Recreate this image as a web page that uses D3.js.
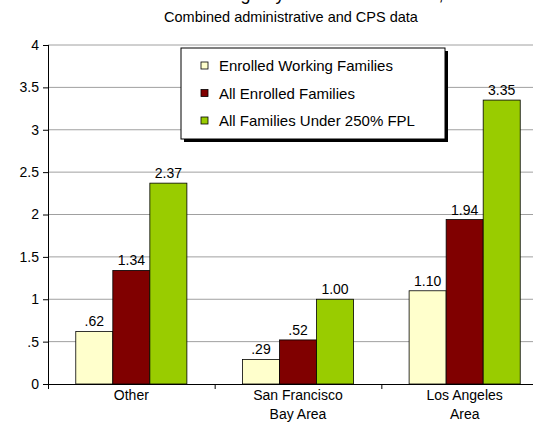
<!DOCTYPE html>
<html>
<head>
<meta charset="utf-8">
<script src="https://cdn.jsdelivr.net/npm/d3@7"></script>
<style>
  body { margin: 0; background: #fff; }
  svg { display: block; font-family: "Liberation Sans", Arial, sans-serif; }
</style>
</head>
<body>
<svg id="chart" width="533" height="429"></svg>
<script>
// ===== DATA =====
const categories = [["Other"], ["San Francisco", "Bay Area"], ["Los Angeles", "Area"]];
const seriesNames = ["Enrolled Working Families", "All Enrolled Families", "All Families Under 250% FPL"];
const seriesColors = ["#ffffcc", "#800000", "#99cc00"];
const workingValues = [0.62, 0.29, 1.10];
const enrolledValues = [1.34, 0.52, 1.94];
const under250Values = [2.37, 1.00, 3.35];
const yTicks = [0, 0.5, 1, 1.5, 2, 2.5, 3, 3.5, 4];

const series = [workingValues, enrolledValues, under250Values];
const catKeys = categories.map(c => c.join(" "));

const fmt = v => {
    const s = v.toFixed(2);
    return s.startsWith("0.") ? s.slice(1) : s;
};
const tickFmt = v => v === 0 ? "0" : (v < 1 ? String(v).slice(1) : String(v));

// ===== LAYOUT =====
const svg = d3.select("#chart");
const plotLeft = 48, plotRight = 548, plotTop = 45, plotBottom = 384;

const x0 = d3.scaleBand().domain(catKeys).range([plotLeft, plotRight])
    .paddingInner(1 / 3).paddingOuter(1 / 6);
const x1 = d3.scaleBand().domain(d3.range(series.length)).range([0, x0.bandwidth()]);
const y = d3.scaleLinear().domain([0, 4]).range([plotBottom, plotTop]);

// title (only its lower edge shows in the original)
svg.append("text")
    .attr("x", 291).attr("y", 0)
    .attr("text-anchor", "middle")
    .style("font-size", "18px")
    .text("Relative Usage by Market Area Rates,");

svg.append("text")
    .attr("x", 291).attr("y", 22)
    .attr("text-anchor", "middle")
    .style("font-size", "14.5px")
    .text("Combined administrative and CPS data");

// gridlines
svg.append("g").selectAll("line")
    .data(yTicks.filter(d => d > 0))
    .join("line")
    .attr("x1", plotLeft).attr("x2", 533)
    .attr("y1", d => y(d)).attr("y2", d => y(d))
    .attr("stroke", "#a0a0a0").attr("stroke-width", 1);

// bars
const groups = svg.append("g").selectAll("g")
    .data(catKeys)
    .join("g")
    .attr("transform", d => `translate(${x0(d)},0)`);

groups.selectAll("rect")
    .data((d, i) => series.map((s, j) => ({ j, v: s[i] })))
    .join("rect")
    .attr("x", d => x1(d.j))
    .attr("width", x1.bandwidth())
    .attr("y", d => y(d.v))
    .attr("height", d => y(0) - y(d.v))
    .attr("fill", d => seriesColors[d.j])
    .attr("stroke", "#000").attr("stroke-width", 0.8);

groups.selectAll("text")
    .data((d, i) => series.map((s, j) => ({ j, v: s[i] })))
    .join("text")
    .attr("x", d => x1(d.j) + x1.bandwidth() / 2)
    .attr("y", d => y(d.v) - 5)
    .attr("text-anchor", "middle")
    .style("font-size", "14px")
    .text(d => fmt(d.v));

// y axis
const yAxisG = svg.append("g")
    .attr("transform", `translate(${plotLeft},0)`)
    .call(d3.axisLeft(y).tickValues(yTicks).tickFormat(tickFmt).tickSize(5).tickSizeOuter(0));
yAxisG.selectAll("text").style("font-size", "14px").attr("fill", "#000").attr("x", -9);
yAxisG.selectAll("line, path").attr("stroke", "#000");
yAxisG.select(".domain").attr("d", `M0.5,${plotTop}V${plotBottom}`);

// x axis
const step = x0.step();
const boundaries = catKeys.map(k => x0(k) - step * x0.paddingInner() / 2);
svg.append("line")
    .attr("x1", plotLeft).attr("x2", 533)
    .attr("y1", plotBottom + 0.5).attr("y2", plotBottom + 0.5)
    .attr("stroke", "#000");
svg.append("g").selectAll("line")
    .data(boundaries)
    .join("line")
    .attr("x1", d => d + 0.5).attr("x2", d => d + 0.5)
    .attr("y1", plotBottom).attr("y2", plotBottom + 5)
    .attr("stroke", "#000");

const xl = svg.append("g").selectAll("text")
    .data(categories)
    .join("text")
    .attr("x", (d, i) => x0(catKeys[i]) + x0.bandwidth() / 2)
    .attr("y", 400)
    .attr("text-anchor", "middle")
    .style("font-size", "14px");
xl.selectAll("tspan")
    .data(d => d)
    .join("tspan")
    .attr("x", function () { return d3.select(this.parentNode).attr("x"); })
    .attr("dy", (d, i) => i === 0 ? 0 : 19)
    .text(d => d);

// legend
const lg = svg.append("g");
lg.append("rect")
    .attr("x", 184).attr("y", 51).attr("width", 264).attr("height", 91)
    .attr("fill", "#000");
lg.append("rect")
    .attr("x", 181).attr("y", 48).attr("width", 264).attr("height", 91)
    .attr("fill", "#fff").attr("stroke", "#000").attr("stroke-width", 1);
const items = lg.selectAll("g.item")
    .data(seriesNames)
    .join("g")
    .attr("class", "item")
    .attr("transform", (d, i) => `translate(201,${66 + i * 27.5})`);
items.append("rect")
    .attr("x", 0).attr("y", -4).attr("width", 7).attr("height", 7)
    .attr("fill", (d, i) => seriesColors[i])
    .attr("stroke", "#000").attr("stroke-width", 0.8);
items.append("text")
    .attr("x", 18).attr("y", 5)
    .style("font-size", "15px")
    .text(d => d);
</script>
</body>
</html>
